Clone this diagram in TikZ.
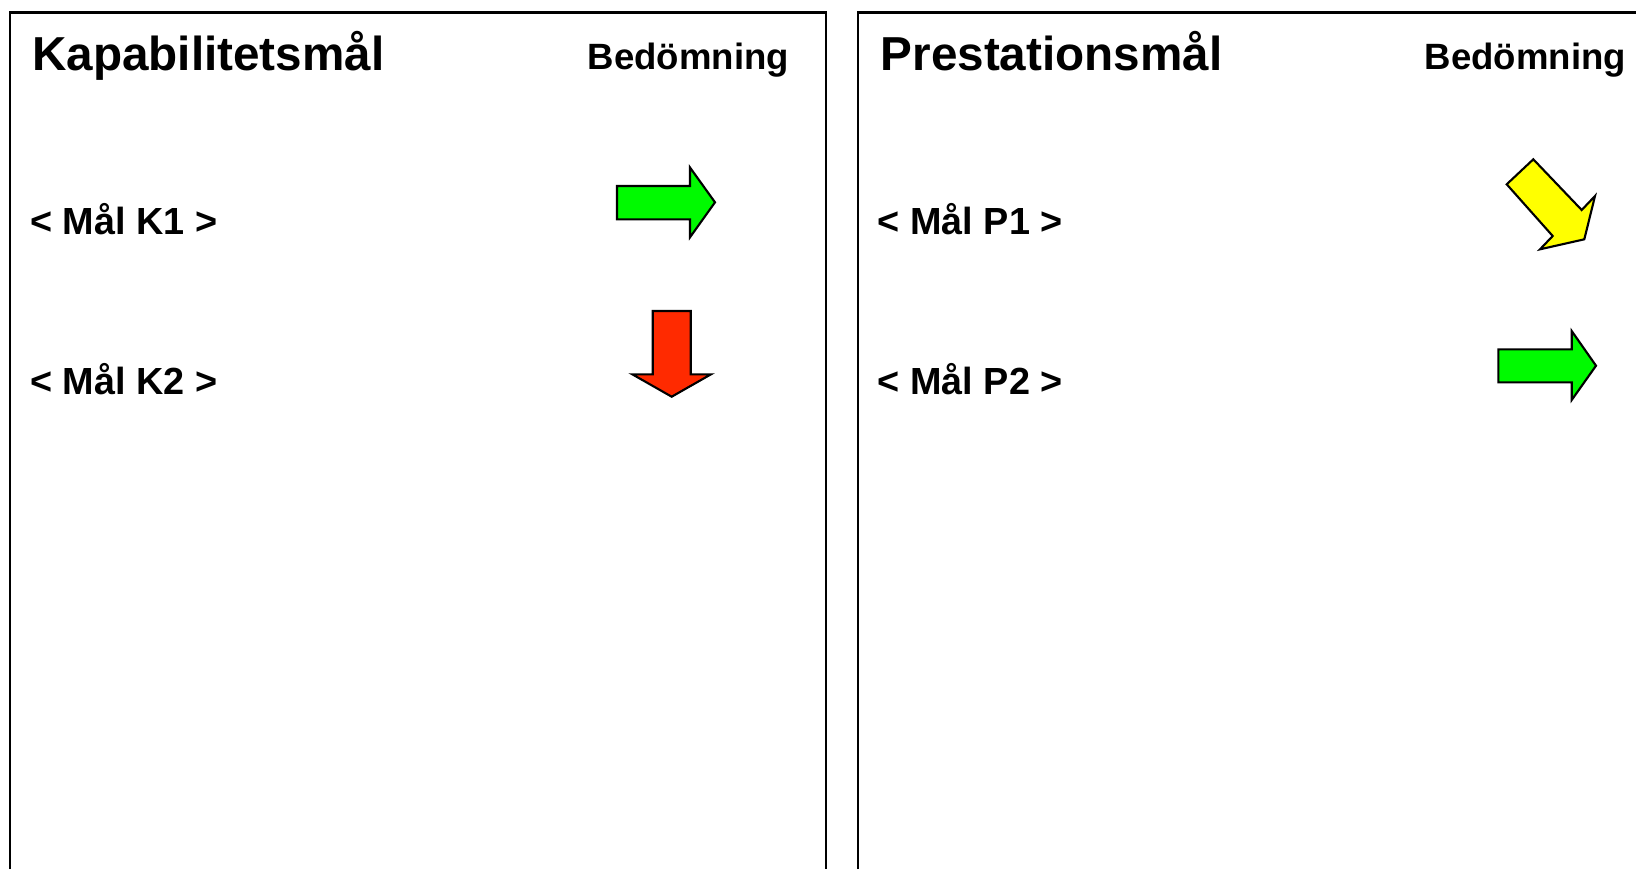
\documentclass[tikz,border=0pt]{standalone}
\usepackage{fontspec}
\setmainfont{Liberation Sans}
\usepackage{tikz}
\usetikzlibrary{positioning}

\definecolor{upgreen}{RGB}{0,250,0}
\definecolor{downred}{RGB}{255,42,0}
\definecolor{midyellow}{RGB}{255,255,0}

\begin{document}
\begin{tikzpicture}
        [x = 0.01cm, y = -0.01cm, line join = miter,
        panel/.style = {draw=black, line width = 0.6pt},
        title/.style = {anchor = base west, inner sep = 0pt, font = \fontsize{13.55}{16}\selectfont\bfseries},
        head/.style = {anchor = base west, inner sep = 0pt, font = \fontsize{10.4}{12}\selectfont\bfseries},
        goal/.style = {anchor = base west, inner sep = 0pt, font = \fontsize{10.75}{12}\selectfont\bfseries},
        trend/.style = {draw=black, line width = 0.6pt}]

        \useasboundingbox (0,0) rectangle (1636,869);

        %% two panels, open at the bottom
        \draw[panel] (10.4,869) -- (10.4,12.5) -- (826.4,12.5) -- (826.4,869);
        \draw[panel] (857.7,869) -- (857.7,12.5) -- (1636,12.5);

        %% left panel
        \node[title] (kaptitle) at (31.5,70)  {Kapabilitetsmål};
        \node[head]  (kaphead)  at (587,69.3) {Bedömning};
        \node[goal]  (goalK1)   at (29.5,234) {< Mål K1 >};
        \node[goal]  (goalK2)   at (29.5,394) {< Mål K2 >};

        %% right panel
        \node[title] (pretitle) at (880,70)    {Prestationsmål};
        \node[head]  (prehead)  at (1424,69.3) {Bedömning};
        \node[goal]  (goalP1)   at (877,234)   {< Mål P1 >};
        \node[goal]  (goalP2)   at (877,394)   {< Mål P2 >};

        %% assessment arrows
        \draw[trend, fill=upgreen] (617,186) -- (690,186) -- (690,167.5) -- (715,202.3)
            -- (690,237.3) -- (690,219.3) -- (617,219.3) -- cycle;
        \draw[trend, fill=downred] (652.7,311) -- (690.7,311) -- (690.7,374.3) -- (711,374.3)
            -- (671.7,396.7) -- (632.3,374.3) -- (652.7,374.3) -- cycle;
        \draw[trend, fill=midyellow] (1506.7,184.3) -- (1533.3,159.3) -- (1581.7,210) -- (1595,196)
            -- (1584.3,239.3) -- (1540,249.3) -- (1552.7,236) -- cycle;
        \draw[trend, fill=upgreen] (1498.3,349.3) -- (1571.7,349.3) -- (1571.7,331) -- (1596,365.7)
            -- (1571.7,400) -- (1571.7,382.3) -- (1498.3,382.3) -- cycle;
    \end{tikzpicture}
\end{document}
